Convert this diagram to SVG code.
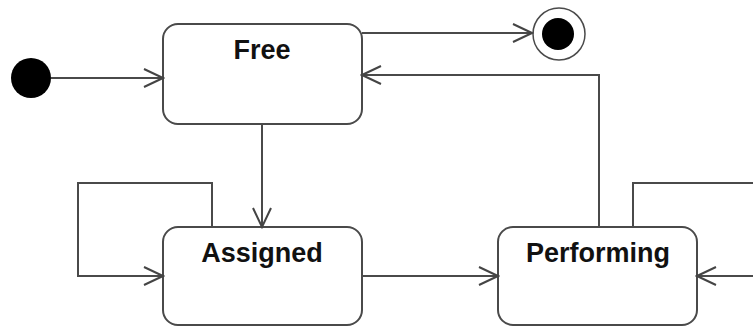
<svg xmlns="http://www.w3.org/2000/svg" width="753" height="327" viewBox="0 0 753 327">
<style>
.state{fill:#fff;stroke:#4a4a4a;stroke-width:2}
.lbl{font-family:"Liberation Sans",Arial,sans-serif;font-weight:bold;font-size:27px;fill:#111;text-anchor:middle}
.edge{fill:none;stroke:#4a4a4a;stroke-width:2}
</style>
<defs>
<marker id="arr" markerUnits="userSpaceOnUse" markerWidth="22" markerHeight="22" viewBox="0 0 22 22" refX="20" refY="10" orient="auto">
<path d="M1,1 L20,10 L1,19" fill="none" stroke="#444" stroke-width="2"/>
</marker>
</defs>
<rect width="753" height="327" fill="#fff"/>
<g id="initial"><circle cx="31" cy="78" r="20" fill="#000"/></g>
<g id="final"><circle cx="559" cy="34" r="26" fill="#fff" stroke="#4a4a4a" stroke-width="1.5"/><circle cx="558" cy="34" r="16" fill="#000"/></g>
<g id="free"><rect class="state" x="163" y="24" width="199" height="100" rx="15"/><text class="lbl" x="262" y="59">Free</text></g>
<g id="assigned"><rect class="state" x="163" y="227" width="199" height="98" rx="15"/><text class="lbl" x="262" y="262">Assigned</text></g>
<g id="performing"><rect class="state" x="498" y="227" width="199" height="98" rx="15"/><text class="lbl" x="598" y="262">Performing</text></g>
<g id="connectors">
<path class="edge" d="M51,78 L163,78" marker-end="url(#arr)"/>
<path class="edge" d="M362,33 L532,33" marker-end="url(#arr)"/>
<path class="edge" d="M599,227 L599,75 L362,75" marker-end="url(#arr)"/>
<path class="edge" d="M262,124 L262,227" marker-end="url(#arr)"/>
<path class="edge" d="M212,227 L212,183 L78,183 L78,276 L163,276" marker-end="url(#arr)"/>
<path class="edge" d="M362,276 L498,276" marker-end="url(#arr)"/>
<path class="edge" d="M633,227 L633,183 L755,183"/>
<path class="edge" d="M755,276 L697,276" marker-end="url(#arr)"/>
</g>
</svg>
